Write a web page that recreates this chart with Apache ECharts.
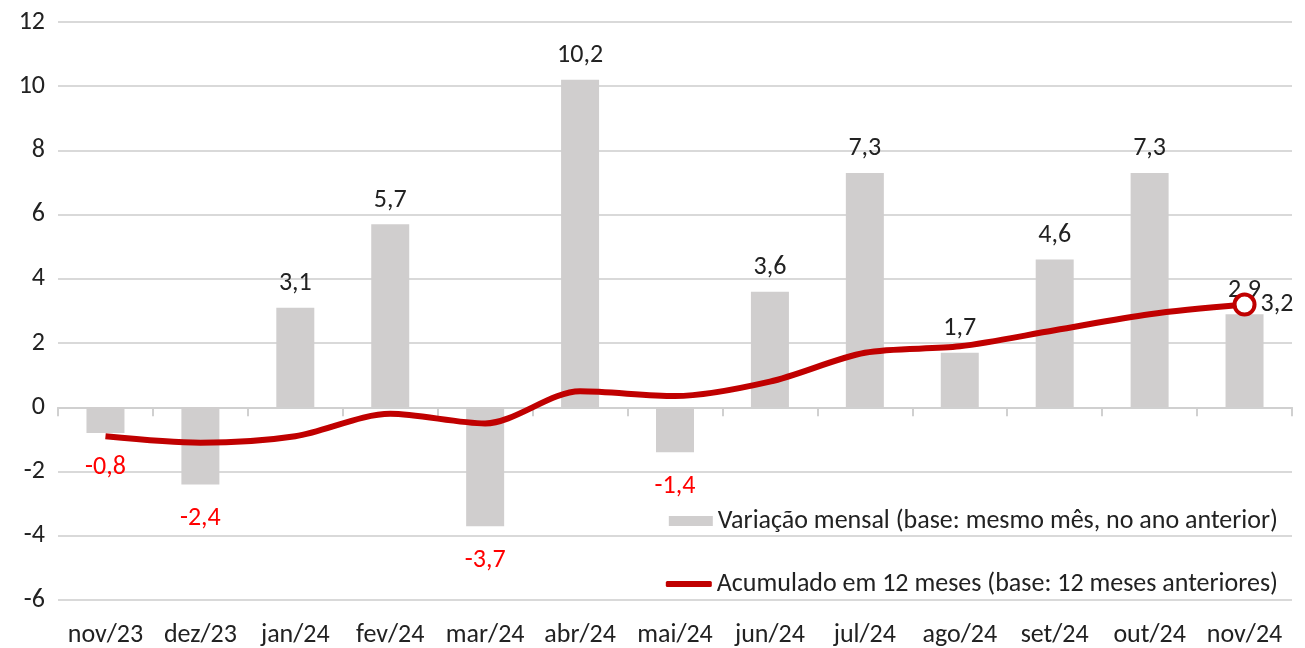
<!DOCTYPE html>
<html>
<head>
<meta charset="utf-8">
<script src="https://cdn.jsdelivr.net/npm/echarts@6/dist/echarts.min.js"></script>
<style>
  html, body { margin: 0; padding: 0; background: #fff; }
  #chart { width: 1305px; height: 648px; }
</style>
</head>
<body>
<div id="chart"></div>
<script>
var months = ['nov/23', 'dez/23', 'jan/24', 'fev/24', 'mar/24', 'abr/24', 'mai/24',
              'jun/24', 'jul/24', 'ago/24', 'set/24', 'out/24', 'nov/24'];
var mensal = [-0.8, -2.4, 3.1, 5.7, -3.7, 10.2, -1.4, 3.6, 7.3, 1.7, 4.6, 7.3, 2.9];
var acumulado = [-0.9, -1.1, -0.9, -0.2, -0.5, 0.5, 0.35, 0.8, 1.7, 1.9, 2.4, 2.9, 3.2];
var nomeMensal = 'Variação mensal (base: mesmo mês, no ano anterior)';
var nomeAcum = 'Acumulado em 12 meses (base: 12 meses anteriores)';

(function() {
    var font = 'Carlito, "Liberation Sans", sans-serif';
    var fs = 26;
    var fmt = function(v) { return v.toFixed(1).replace('.', ','); };
    var chart = echarts.init(document.getElementById('chart'));

    var barData = mensal.map(function(v) {
        return {
            value: v,
            label: v < 0
                ? { position: 'bottom', distance: 21, color: '#ff0000' }
                : { position: 'top', distance: 11, color: '#222' }
        };
    });
    var lineData = acumulado.map(function(v, i) {
        if (i === acumulado.length - 1) {
            return {
                value: v,
                symbol: 'circle',
                symbolSize: 20,
                itemStyle: { color: '#fff', borderColor: '#c00000', borderWidth: 4 },
                label: { show: true, position: 'right', distance: 4, color: '#222',
                         fontSize: fs, fontFamily: font, formatter: function(p) { return fmt(p.value); } }
            };
        }
        return { value: v };
    });

    var legendText = { fontSize: fs, color: '#222', fontFamily: font };
    var option = {
        animation: false,
        textStyle: { fontFamily: font },
        grid: { left: 58, right: 13, top: 22, bottom: 48 },
        legend: [
            {
                right: 22,
                top: 503,
                itemWidth: 44,
                itemHeight: 10,
                textStyle: legendText,
                data: [{ name: nomeMensal, icon: 'rect' }]
            },
            {
                right: 22,
                top: 566,
                itemWidth: 46,
                itemHeight: 6,
                textStyle: legendText,
                data: [{ name: nomeAcum, icon: 'roundRect' }]
            }
        ],
        xAxis: [
            {
                // eixo no zero, so linha e marcas
                type: 'category',
                data: months,
                position: 'bottom',
                axisLine: { show: true, onZero: true, lineStyle: { color: '#d0d0d0', width: 2 } },
                axisTick: { show: true, interval: 0, length: 9, lineStyle: { color: '#d0d0d0', width: 2 } },
                axisLabel: { show: false }
            },
            {
                // rotulos dos meses embaixo
                type: 'category',
                data: months,
                position: 'top',
                offset: -578,
                axisLine: { show: false, onZero: false },
                axisTick: { show: false },
                axisLabel: { inside: true, interval: 0, color: '#222', fontSize: fs, margin: 22, fontFamily: font }
            }
        ],
        yAxis: {
            type: 'value',
            min: -6,
            max: 12,
            interval: 2,
            axisLine: { show: false },
            axisTick: { show: false },
            axisLabel: { color: '#222', fontSize: fs, margin: 13, fontFamily: font },
            splitLine: { lineStyle: { color: '#d9d9d9', width: 2 } }
        },
        series: [
            {
                name: nomeMensal,
                type: 'bar',
                xAxisIndex: 0,
                barWidth: 38,
                itemStyle: { color: '#d0cece' },
                label: {
                    show: true,
                    fontSize: fs,
                    fontFamily: font,
                    formatter: function(p) { return fmt(p.value); }
                },
                data: barData
            },
            {
                name: nomeAcum,
                type: 'line',
                xAxisIndex: 0,
                smooth: 0.3,
                symbol: 'none',
                lineStyle: { color: '#c00000', width: 6 },
                itemStyle: { color: '#c00000' },
                z: 5,
                data: lineData
            }
        ]
    };
    chart.setOption(option);
})();
</script>
</body>
</html>
